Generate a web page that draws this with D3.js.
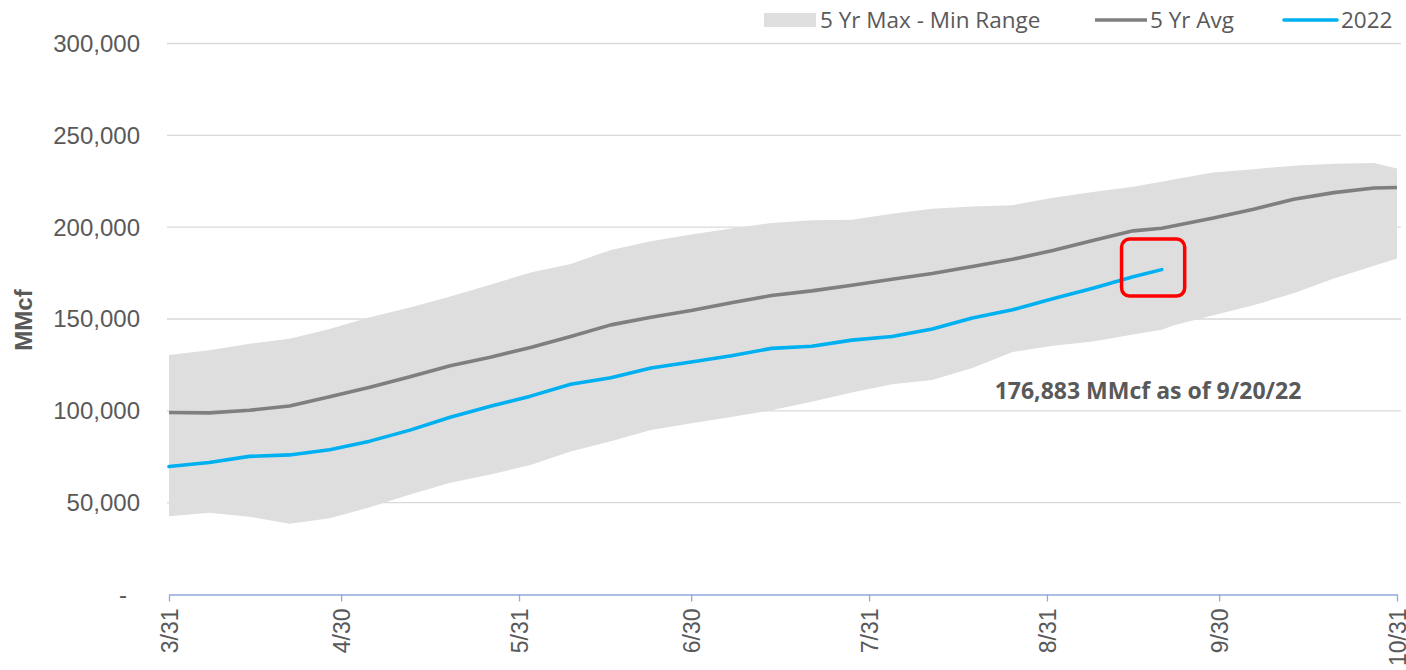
<!DOCTYPE html>
<html>
<head>
<meta charset="utf-8">
<script src="https://cdn.jsdelivr.net/npm/d3@7"></script>
<style>
  body { margin: 0; background: #fff; }
  svg { display: block; }
</style>
</head>
<body>
<script>
// weekly readings, 3/31 .. 10/31 (9/20 added for the last 2022 point)
var dates = ["3/31","4/7","4/14","4/21","4/28","5/5","5/12","5/19","5/26","6/2","6/9","6/16",
             "6/23","6/30","7/7","7/14","7/21","7/28","8/4","8/11","8/18","8/25","9/1","9/8",
             "9/15","9/20","9/22","9/29","10/6","10/13","10/20","10/27","10/31"];
var maxRange = [130400,133000,136500,139200,144500,151000,156200,162300,168700,175300,180000,187600,
                192300,196000,199300,202300,203800,204000,207300,210000,211200,212000,216000,219200,
                222000,224700,226000,229800,231500,233500,234500,235000,232000];
var minRange = [42600,44500,42400,38500,41500,47500,54500,60800,65300,70500,77800,83400,
                89500,93200,96600,100300,105000,110000,114500,116800,123300,132000,135500,137700,
                141500,144200,146500,152000,157500,164000,172000,179000,183000];
var avg5yr   = [99100,98900,100300,102600,107700,112800,118600,124500,129200,134500,140500,146800,
                151000,154600,158800,162800,165300,168400,171600,174800,178600,182500,187300,192700,
                198000,199400,200600,205000,209700,215200,218800,221300,221600];
var y2022    = [69700,71900,75200,76000,78800,83500,89500,96500,102500,108000,114500,118000,
                123300,126600,130000,134000,135200,138500,140500,144500,150600,155000,161000,166800,
                173000,176883];
var yTicks = [0,50000,100000,150000,200000,250000,300000];
var xTicks = ["3/31","4/30","5/31","6/30","7/31","8/31","9/30","10/31"];

var width = 1406, height = 670;
var parse = function(s){ return d3.timeParse("%m/%d/%Y")(s + "/2022"); };

var svg = d3.select("body").append("svg")
    .attr("width", width)
    .attr("height", height);

var x = d3.scaleTime()
    .domain([parse("3/31"), parse("10/31")])
    .range([169, 1397]);

var y = d3.scaleLinear()
    .domain([0, 300000])
    .range([594.5, 43.5]);

// gridlines
svg.append("g")
    .selectAll("line")
    .data(yTicks.filter(function(d){ return d > 0; }))
    .enter().append("line")
    .attr("x1", 167).attr("x2", 1401)
    .attr("y1", function(d){ return y(d); })
    .attr("y2", function(d){ return y(d); })
    .attr("stroke", "#d9d9d9")
    .attr("stroke-width", 1.3);

var rows = dates.map(function(d, i){
    return { date: parse(d), hi: maxRange[i], lo: minRange[i], avg: avg5yr[i], v: y2022[i] };
});

// 5 yr band
var area = d3.area()
    .x(function(d){ return x(d.date); })
    .y0(function(d){ return y(d.lo); })
    .y1(function(d){ return y(d.hi); });

svg.append("path")
    .datum(rows)
    .attr("d", area)
    .attr("fill", "#dedede");

var line = function(key){
    return d3.line()
        .defined(function(d){ return d[key] != null; })
        .x(function(d){ return x(d.date); })
        .y(function(d){ return y(d[key]); });
};

svg.append("path")
    .datum(rows)
    .attr("d", line("avg"))
    .attr("fill", "none")
    .attr("stroke", "#7f7f7f")
    .attr("stroke-width", 3.6)
    .attr("stroke-linejoin", "round");

svg.append("path")
    .datum(rows.filter(function(d){ return d.v != null; }))
    .attr("d", line("v"))
    .attr("fill", "none")
    .attr("stroke", "#00b0f0")
    .attr("stroke-width", 3.6)
    .attr("stroke-linecap", "round")
    .attr("stroke-linejoin", "round");

// y axis labels
var fmt = d3.format(",");
svg.append("g")
    .selectAll("text")
    .data(yTicks)
    .enter().append("text")
    .attr("x", function(d){ return d === 0 ? 127 : 140; })
    .attr("y", function(d){ return y(d); })
    .attr("dy", "0.35em")
    .attr("text-anchor", "end")
    .attr("font-family", "'Liberation Sans', Arial, sans-serif")
    .attr("font-size", "24px")
    .attr("fill", "#595959")
    .text(function(d){ return d === 0 ? "-" : fmt(d); });

svg.append("text")
    .attr("transform", "translate(32,320) rotate(-90)")
    .attr("text-anchor", "middle")
    .attr("font-family", "'Liberation Sans', Arial, sans-serif")
    .attr("font-weight", "bold")
    .attr("font-size", "24px")
    .attr("fill", "#595959")
    .text("MMcf");

// x axis
var xAxis = d3.axisBottom(x)
    .tickValues(xTicks.map(parse))
    .tickSize(7)
    .tickSizeOuter(0)
    .tickFormat(d3.timeFormat("%-m/%-d"));

var gx = svg.append("g")
    .attr("transform", "translate(0," + y(0) + ")")
    .call(xAxis);

gx.select(".domain").attr("stroke", "#8faadc").attr("stroke-width", 1.3);
gx.selectAll(".tick line").attr("stroke", "#8faadc").attr("stroke-width", 1.3);
gx.selectAll(".tick text")
    .attr("font-family", "'Liberation Sans', Arial, sans-serif")
    .attr("font-size", "23px")
    .attr("fill", "#595959")
    .attr("text-anchor", "end")
    .attr("transform", "rotate(-90)")
    .attr("x", -14)
    .attr("y", 0)
    .attr("dy", "0.35em");

// annotation
svg.append("rect")
    .attr("x", x(parse("9/13")))
    .attr("y", y(193500))
    .attr("width", x(parse("9/24")) - x(parse("9/13")))
    .attr("height", y(162500) - y(193500))
    .attr("rx", 8)
    .attr("fill", "none")
    .attr("stroke", "#ff0000")
    .attr("stroke-width", 3.5);

svg.append("text")
    .attr("x", 1148)
    .attr("y", 399)
    .attr("text-anchor", "middle")
    .attr("font-family", "'Open Sans', sans-serif")
    .attr("font-weight", "bold")
    .attr("font-size", "23px")
    .attr("fill", "#595959")
    .text("176,883 MMcf as of 9/20/22");

// legend
var legend = svg.append("g")
    .attr("font-family", "'Open Sans', sans-serif")
    .attr("font-size", "22.5px")
    .attr("fill", "#595959");

legend.append("rect")
    .attr("x", 764).attr("y", 13)
    .attr("width", 52).attr("height", 14)
    .attr("fill", "#dedede");
legend.append("text").attr("x", 820).attr("y", 28).text("5 Yr Max - Min Range");

legend.append("line")
    .attr("x1", 1095).attr("x2", 1147).attr("y1", 20).attr("y2", 20)
    .attr("stroke", "#7f7f7f").attr("stroke-width", 3.6);
legend.append("text").attr("x", 1150).attr("y", 28).text("5 Yr Avg");

legend.append("line")
    .attr("x1", 1284).attr("x2", 1337).attr("y1", 20).attr("y2", 20)
    .attr("stroke", "#00b0f0").attr("stroke-width", 3.6).attr("stroke-linecap", "round");
legend.append("text").attr("x", 1341).attr("y", 28).text("2022");
</script>
</body>
</html>
